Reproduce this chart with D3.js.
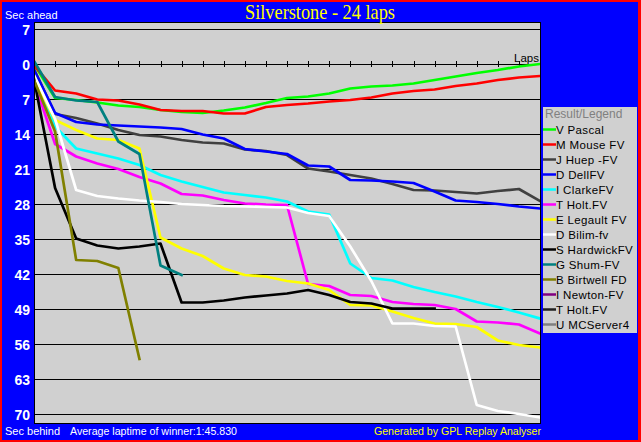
<!DOCTYPE html>
<html><head><meta charset="utf-8">
<script src="https://cdn.jsdelivr.net/npm/d3@7"></script>
<style>
html,body{margin:0;padding:0;background:#0000ff;overflow:hidden}
svg{display:block}
</style></head>
<body>
<svg id="c" width="641" height="442"></svg>
<script>
const laps = d3.range(0, 25);
const yTicks = [-7, 0, 7, 14, 21, 28, 35, 42, 49, 56, 63, 70];
const drivers = ["V Pascal","M Mouse FV","J Huep -FV","D DellFV","I ClarkeFV","T Holt.FV","E Legault FV","D Bilim-fv","S HardwickFV","G Shum-FV","B Birtwell FD","I Newton-FV","T Holt.FV","U MCServer4"];
const colors = ["#00ff00","#ff0000","#404040","#0000ff","#00ffff","#ff00ff","#ffff00","#ffffff","#000000","#008080","#808000","#800080","#202020","#808080"];
// seconds behind (positive = behind), per lap 0..n
const pascal   = [0,6.8,7.2,7.7,8.3,8.6,9.2,9.6,9.8,9.3,8.7,7.8,6.8,6.5,5.9,4.9,4.5,4.3,3.9,3.2,2.5,1.8,1.2,0.5,0];
const mouse    = [0.2,5.3,5.9,7.1,7.3,8.1,9.2,9.4,9.4,9.9,9.9,8.6,8.2,7.9,7.5,7.2,6.7,5.9,5.4,5.1,4.4,3.9,3.2,2.7,2.4];
const huep     = [1.0,10.0,10.8,11.9,13.2,14.2,14.5,15.2,15.7,15.9,17.1,17.4,18.2,20.9,21.5,22.2,22.9,24.0,25.2,25.3,25.6,25.9,25.4,25.0,27.4];
const dell     = [1.2,9.8,11.6,12.1,12.3,12.5,12.7,13.0,14.1,14.9,17.0,17.5,18.0,20.3,20.5,23.2,23.3,23.5,23.8,25.5,27.3,27.6,28.0,28.5,28.9];
const clarke   = [2.5,12.5,16.9,17.9,18.9,20.2,22.2,23.5,24.6,25.7,26.2,26.7,27.5,29.5,30.1,39.9,42.8,43.3,44.6,45.6,46.5,47.6,48.6,49.7,50.9];
const holt     = [3.5,16.0,18.5,19.9,21.0,22.6,23.9,26.0,26.3,27.2,27.9,28.1,28.2,44.0,44.4,46.2,46.4,47.6,48.0,48.2,49.0,51.5,51.7,52.1,53.9];
const legault  = [2.8,11.2,13.2,14.9,15.2,16.9,34.7,36.9,38.4,40.9,42.2,42.5,43.4,43.9,45.2,48.2,48.3,49.5,50.8,51.9,52.0,52.6,55.3,56.2,56.7];
const bilim    = [2.2,11.0,25.2,26.4,26.9,27.3,27.6,28.0,28.2,28.4,28.5,28.6,28.7,29.8,30.4,36.5,43.4,51.9,51.9,52.4,52.5,68.2,69.4,70.0,70.7];
const hardwick = [3.0,24.8,34.9,36.3,36.9,36.5,35.9,47.7,47.7,47.3,46.7,46.3,45.9,45.2,46.2,47.6,47.9,48.9,48.9,48.9];
const shum     = [-0.6,6.6,7.3,7.6,15.5,18.0,40.3,42.2];
const birtwell = [3.2,13.5,39.2,39.4,40.8,59.0];
const newton   = [];
const holt2    = [];
const mcserver = [];
const series = [pascal,mouse,huep,dell,clarke,holt,legault,bilim,hardwick,shum,birtwell,newton,holt2,mcserver];

const SANS = "'Liberation Sans',Arial,sans-serif";
const SERIF = "'Liberation Serif','Times New Roman',serif";
const svg = d3.select("#c");
const W = 641, H = 442;
svg.append("rect").attr("x",0).attr("y",0).attr("width",W).attr("height",H).attr("fill","#0000ff");

const x = d3.scaleLinear().domain([0,24]).range([34,540]);
const y = d3.scaleLinear().domain([-8.4,71.8]).range([22,423]);

// plot background
svg.append("rect").attr("x",34).attr("y",22).attr("width",506).attr("height",401).attr("fill","#d0d0d0");

// grid lines
svg.append("g").selectAll("line").data(yTicks).join("line")
  .attr("x1",34).attr("x2",540)
  .attr("y1",d=>Math.round(y(d))+0.5).attr("y2",d=>Math.round(y(d))+0.5)
  .attr("stroke","#000").attr("stroke-width",1).attr("shape-rendering","crispEdges");

// lap ticks on the zero line
svg.append("g").selectAll("line").data(laps.slice(1,24)).join("line")
  .attr("x1",d=>Math.round(x(d))+0.5).attr("x2",d=>Math.round(x(d))+0.5)
  .attr("y1",Math.round(y(0))-3).attr("y2",Math.round(y(0))+3)
  .attr("stroke","#000").attr("stroke-width",1).attr("shape-rendering","crispEdges");

svg.append("text").attr("x",539).attr("y",62).attr("text-anchor","end")
  .style("font-family",SANS).style("font-size","11.5px").attr("fill","#000").text("Laps");

// y axis labels
const yAxis = d3.axisLeft(y).tickValues(yTicks).tickSize(0).tickFormat(d=>String(Math.abs(d)));
const ga = svg.append("g").attr("transform","translate(30,0)").call(yAxis);
ga.select(".domain").remove();
ga.selectAll("text").attr("fill","#fff").style("font-size","14px").style("font-weight","bold")
  .style("font-family",SANS).attr("dy","0.36em").attr("x",0);

// lines
const line = d3.line().x((d,i)=>x(i)).y(d=>y(d));
svg.append("clipPath").attr("id","clip").append("rect").attr("x",34).attr("y",22).attr("width",506).attr("height",401);
const gl = svg.append("g").attr("clip-path","url(#clip)");
series.forEach((s,k)=>{
  if(s.length<2) return;
  gl.append("path").attr("d",line(s)).attr("fill","none").attr("stroke",colors[k])
    .attr("stroke-width",2.7).attr("stroke-linejoin","round").attr("stroke-linecap","square");
});

// plot border
svg.append("rect").attr("x",34.5).attr("y",22.5).attr("width",505.5).attr("height",400.5)
  .attr("fill","none").attr("stroke","#000").attr("stroke-width",1).attr("shape-rendering","crispEdges");

// legend
svg.append("rect").attr("x",543).attr("y",107).attr("width",94).attr("height",226).attr("fill","#d0d0d0");
svg.append("text").attr("x",545).attr("y",118).style("font-family",SANS).style("font-size","12px")
  .attr("fill","#808080").text("Result/Legend");
const lg = svg.append("g").selectAll("g").data(drivers).join("g")
  .attr("transform",(d,i)=>`translate(0,${133.5+15*i})`);
lg.append("line").attr("x1",543).attr("x2",556).attr("y1",-4).attr("y2",-4)
  .attr("stroke",(d,i)=>colors[i]).attr("stroke-width",2.5);
lg.append("text").attr("x",556).attr("y",0).style("font-family",SANS).style("font-size","11.5px")
  .style("letter-spacing","0.35px").attr("fill","#000").text(d=>d);

// texts
svg.append("text").attr("x",320).attr("y",18.5).attr("text-anchor","middle")
  .style("font-family",SERIF).style("font-size","21px")
  .attr("fill","#ffff00").attr("textLength",150).attr("lengthAdjust","spacingAndGlyphs")
  .text("Silverstone - 24 laps");
svg.append("text").attr("x",5).attr("y",19).style("font-family",SANS).style("font-size","11px").attr("fill","#fff").text("Sec ahead");
svg.append("text").attr("x",5).attr("y",435).style("font-family",SANS).style("font-size","11px").attr("fill","#fff").text("Sec behind");
svg.append("text").attr("x",70).attr("y",435).style("font-family",SANS).style("font-size","11px").attr("fill","#fff")
  .attr("textLength",167).attr("lengthAdjust","spacingAndGlyphs").text("Average laptime of winner:1:45.830");
svg.append("text").attr("x",374).attr("y",435).style("font-family",SANS).style("font-size","11px").attr("fill","#ffff00")
  .attr("textLength",167).attr("lengthAdjust","spacingAndGlyphs").text("Generated by GPL Replay Analyser");

// outer red frame
svg.append("rect").attr("x",1).attr("y",1).attr("width",W-2).attr("height",H-2)
  .attr("fill","none").attr("stroke","#ff0000").attr("stroke-width",2);
svg.append("rect").attr("x",638).attr("y",0).attr("width",3).attr("height",H).attr("fill","#ff0000");
</script>
</body></html>
